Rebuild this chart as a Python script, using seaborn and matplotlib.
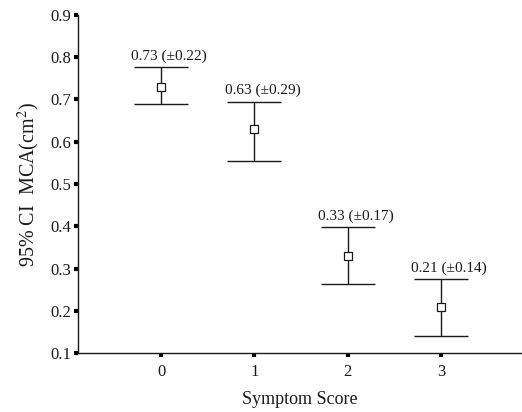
import matplotlib
matplotlib.use("Agg")
import matplotlib.pyplot as plt
import seaborn as sns
import pandas as pd

# Mean MCA per symptom score with its 95% confidence interval
scores = [0, 1, 2, 3]
means = [0.73, 0.63, 0.33, 0.21]
sds = [0.22, 0.29, 0.17, 0.14]
ci_low = [0.689, 0.555, 0.263, 0.140]
ci_high = [0.777, 0.695, 0.399, 0.275]
score_labels = ["0", "1", "2", "3"]
y_ticks = [0.1, 0.2, 0.3, 0.4, 0.5, 0.6, 0.7, 0.8, 0.9]

df = pd.DataFrame({"score": scores, "mean": means, "sd": sds,
                   "lo": ci_low, "hi": ci_high})

sns.set_theme(style="ticks")
plt.rcParams["font.family"] = ["Liberation Serif", "DejaVu Serif"]
plt.rcParams["mathtext.fontset"] = "stix"

fig = plt.figure(figsize=(5.22, 4.12), dpi=100)
ax = fig.add_axes([0.1494, 0.1432, 0.8506, 0.8204])

ink = "#1a1a1a"
yerr = [df["mean"] - df["lo"], df["hi"] - df["mean"]]
ax.errorbar(df["score"], df["mean"], yerr=yerr, fmt="none",
            ecolor=ink, elinewidth=1.0, capsize=19.5, capthick=1.0, zorder=2)
sns.scatterplot(data=df, x="score", y="mean", marker="s", s=30,
                facecolor="white", edgecolor=ink, linewidth=0.9,
                ax=ax, zorder=3, legend=False)

for _, r in df.iterrows():
    ax.annotate(f"{r['mean']:.2f} (\u00b1{r['sd']:.2f})",
                xy=(r["score"], r["hi"]), xytext=(6, 3),
                textcoords="offset points", ha="center", va="bottom",
                fontsize=11, color=ink)

ax.set_xlim(-0.89, 3.87)
ax.set_ylim(0.1, 0.9)
ax.set_xticks(scores)
ax.set_xticklabels(score_labels)
ax.set_yticks(y_ticks)
ax.set_yticklabels([f"{t:.1f}" for t in y_ticks])

for side in ("top", "right"):
    ax.spines[side].set_visible(False)
for side in ("left", "bottom"):
    ax.spines[side].set_color(ink)
    ax.spines[side].set_linewidth(1.0)

ax.tick_params(axis="both", direction="out", length=3, width=3,
               color="black", labelsize=12, labelcolor=ink, pad=2)
ax.tick_params(axis="x", pad=5)

ax.set_xlabel("Symptom Score", fontsize=13, color=ink, labelpad=8)
ax.set_ylabel("95% CI  MCA(cm$^2$)", fontsize=14.5, color=ink, labelpad=6)

fig.savefig("out.png", dpi=100)
